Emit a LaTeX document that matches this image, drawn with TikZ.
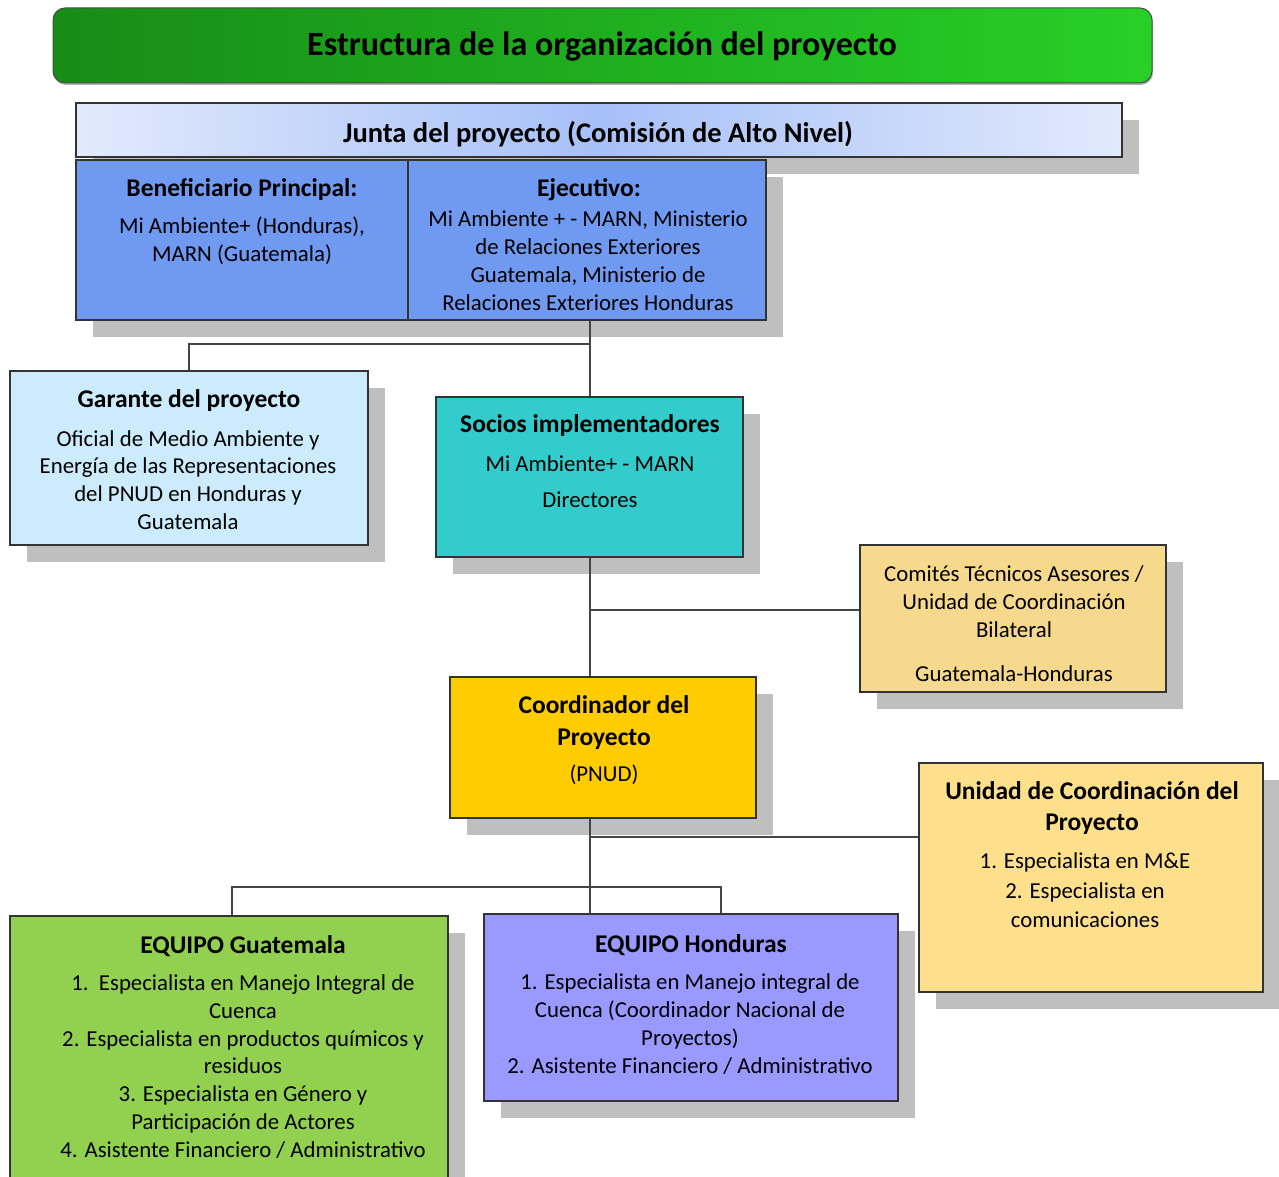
\documentclass[tikz,border=0pt]{standalone}
\usepackage{fontspec}
\setmainfont{Carlito}
\usetikzlibrary{positioning,shadows}
\definecolor{titleL}{HTML}{178C17}
\definecolor{titleR}{HTML}{27D027}
\definecolor{juntaE}{HTML}{E2EAFC}
\definecolor{juntaM}{HTML}{A6C0F8}
\definecolor{benefblue}{HTML}{7099F2}
\definecolor{garanteblue}{HTML}{CCEBFC}
\definecolor{sociosteal}{HTML}{33CCCC}
\definecolor{comitesorange}{HTML}{F6D98C}
\definecolor{coordyellow}{HTML}{FFCC00}
\definecolor{unidadyellow}{HTML}{FEE08C}
\definecolor{guategreen}{HTML}{92D050}
\definecolor{hondviolet}{HTML}{9999FF}
\definecolor{shadowgray}{HTML}{BFBFBF}
\definecolor{linegray}{HTML}{454545}
\begin{document}
\begin{tikzpicture}[x=1pt, y=-1pt,
  box/.style={draw=black!80, line width=1.4pt, inner sep=0pt,
    general shadow={fill=shadowgray, shadow xshift=17pt, shadow yshift=-17pt}},
  head/.style={font=\fontsize{25.5}{32}\selectfont\bfseries, align=center, inner sep=0pt, yshift=-2pt},
  txt/.style={font=\fontsize{22.8}{27.8}\selectfont, align=center, inner sep=0pt, yshift=-2pt},
  link/.style={draw=linegray, line width=2pt}]
\clip (0,0) rectangle (1279,1177);
\useasboundingbox (0,0) rectangle (1279,1177);
% title bar
\node[draw=black!70, line width=1pt, rounded corners=12pt, left color=titleL, right color=titleR,
  drop shadow={fill=black!60, shadow xshift=1pt, shadow yshift=-2pt},
  minimum width=1099pt, minimum height=75pt] (title) at (602.5,45.5) {};
\node[font=\fontsize{34}{40}\selectfont\bfseries, yshift=-2pt] (titleT) at (602,44) {Estructura de la organización del proyecto};
% board
\node[box, left color=juntaE, right color=juntaE, middle color=juntaM,
  minimum width=1046pt, minimum height=54pt] (junta) at (599,130) {};
\node[font=\fontsize{28.5}{34}\selectfont\bfseries, yshift=-2pt] (juntaT) at (598,132) {Junta del proyecto (Comisión de Alto Nivel)};
\node[box, fill=benefblue, minimum width=332pt, minimum height=160pt] (benef) at (242,240) {};
\node[box, fill=benefblue, minimum width=358pt, minimum height=160pt] (ejec) at (587,240) {};
\node[head] (benefH) at (242,188) {Beneficiario Principal:};
\node[txt] (benefT) at (242,239) {Mi Ambiente+ (Honduras),\\MARN (Guatemala)};
\node[head] (ejecH) at (589,188) {Ejecutivo:};
\node[txt] (ejecT) at (588,258.5) {Mi Ambiente + - MARN, Ministerio\\de Relaciones Exteriores\\Guatemala, Ministerio de\\Relaciones Exteriores Honduras};
% second level
\node[box, fill=garanteblue, minimum width=358pt, minimum height=174pt] (garante) at (189,458) {};
\node[head] (garanteH) at (189,399) {Garante del proyecto};
\node[txt] (garanteT) at (188,478) {Oficial de Medio Ambiente y\\Energía de las Representaciones\\del PNUD en Honduras y\\Guatemala};
\node[box, fill=sociosteal, minimum width=307pt, minimum height=160pt] (socios) at (589.5,477) {};
\node[head] (sociosH) at (590,424) {Socios implementadores};
\node[txt] (sociosT) at (590,462) {Mi Ambiente+ - MARN};
\node[txt] (sociosD) at (590,498) {Directores};
\node[box, fill=comitesorange, minimum width=306pt, minimum height=147pt] (comites) at (1013,618.5) {};
\node[txt] (comitesT) at (1014,599.5) {Comités Técnicos Asesores /\\Unidad de Coordinación\\Bilateral};
\node[txt] (comitesG) at (1014,672) {Guatemala-Honduras};
% coordination
\node[box, fill=coordyellow, minimum width=306pt, minimum height=141pt] (coord) at (603,747.5) {};
\node[head] (coordH) at (604,721) {Coordinador del\\Proyecto};
\node[txt] (coordT) at (604,773) {(PNUD)};
\node[box, fill=unidadyellow, minimum width=344pt, minimum height=229pt] (unidad) at (1091,877.5) {};
\node[head, font=\fontsize{25.5}{31}\selectfont\bfseries] (unidadH) at (1092,806.5) {Unidad de Coordinación del\\Proyecto};
\node[txt, font=\fontsize{22.8}{29.5}\selectfont] (unidadT) at (1085,888.5) {1. Especialista en M\&E\\2. Especialista en\\comunicaciones};
% teams
\node[box, fill=guategreen, minimum width=438pt, minimum height=288pt] (guate) at (229,1060) {};
\node[head] (guateH) at (243,944) {EQUIPO Guatemala};
\node[txt] (guateT) at (243,1064.5) {1.\ \ Especialista en Manejo Integral de\\Cuenca\\2. Especialista en productos químicos y\\residuos\\3. Especialista en Género y\\Participación de Actores\\4. Asistente Financiero / Administrativo};
\node[box, fill=hondviolet, minimum width=414pt, minimum height=187pt] (hond) at (691,1007.5) {};
\node[head] (hondH) at (691,943) {EQUIPO Honduras};
\node[txt] (hondT) at (690,1022) {1. Especialista en Manejo integral de\\Cuenca (Coordinador Nacional de\\Proyectos)\\2. Asistente Financiero / Administrativo};
% connectors
\coordinate (j1) at (589,344);
\coordinate (j2) at (590,610);
\coordinate (j3) at (590,837);
\coordinate (gL) at (232,887);
\coordinate (gR) at (721,887);
\draw[link] (socios.north |- ejec.south) -- (socios.north);
\draw[link] (j1) -| (garante.north);
\draw[link] (j2 |- socios.south) -- (j2 |- coord.north);
\draw[link] (j2) -- (j2 -| comites.west);
\draw[link] (j3 |- coord.south) -- (j3 |- hond.north);
\draw[link] (j3) -- (j3 -| unidad.west);
\draw[link] (guate.north -| gL) -- (gL) -- (gR) -- (hond.north -| gR);
\end{tikzpicture}
\end{document}
